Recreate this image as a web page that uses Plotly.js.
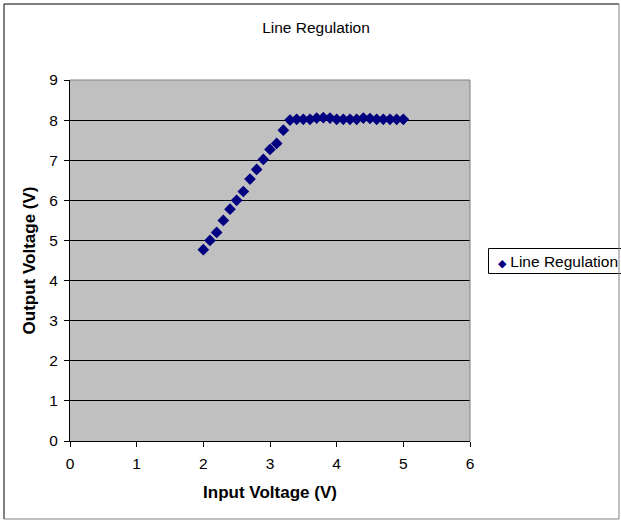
<!DOCTYPE html>
<html>
<head>
<meta charset="utf-8">
<script src="https://cdn.plot.ly/plotly-3.0.1.min.js"></script>
<style>
html,body{margin:0;padding:0;background:#fff;}
#chart{width:621px;height:521px;}
</style>
</head>
<body>
<div id="chart"></div>
<script>
const inputVoltage = [2.0, 2.1, 2.2, 2.3, 2.4, 2.5, 2.6, 2.7, 2.8, 2.9, 3.0, 3.1, 3.2, 3.3,
  3.4, 3.5, 3.6, 3.7, 3.8, 3.9, 4.0, 4.1, 4.2, 4.3, 4.4, 4.5, 4.6, 4.7, 4.8, 4.9, 5.0];
const outputVoltage = [4.77, 5.0, 5.2, 5.5, 5.78, 6.0, 6.22, 6.53, 6.77, 7.02, 7.27, 7.42, 7.75, 8.0,
  8.02, 8.02, 8.02, 8.05, 8.06, 8.05, 8.02, 8.02, 8.02, 8.02, 8.05, 8.04, 8.02, 8.02, 8.02, 8.02, 8.02];
const seriesName = "Line Regulation";
const chartTitle = "Line Regulation";
const xTitle = "Input Voltage (V)";
const yTitle = "Output Voltage (V)";
const markerColor = "#000080";

const L = 70, R = 151, T = 80, B = 80;
const W = 621, H = 521;
const pw = W - L - R, ph = H - T - B;
const px = v => (v - L) / pw;
const py = v => (H - B - v) / ph;
const FONT = "Arial, 'Liberation Sans', sans-serif";

const trace = {
  x: inputVoltage, y: outputVoltage, name: seriesName,
  type: "scatter", mode: "markers",
  marker: {symbol: "diamond", color: markerColor, size: 9},
  showlegend: false
};

const layout = {
  width: W, height: H,
  margin: {l: L, r: R, t: T, b: B, pad: 0, autoexpand: false},
  paper_bgcolor: "#ffffff",
  plot_bgcolor: "#c0c0c0",
  font: {family: FONT, size: 15.5, color: "#000"},
  showlegend: false,
  title: {text: chartTitle, font: {size: 15.5}, x: px(316), xref: "paper", xanchor: "center", y: 1 - 28/H, yanchor: "middle"},
  xaxis: {
    range: [0, 6], dtick: 1, tick0: 0,
    showgrid: false, zeroline: false,
    showline: true, linecolor: "#000", linewidth: 1, mirror: false,
    ticks: "outside", ticklen: 5, tickcolor: "#000",
    tickfont: {size: 15.5}, ticklabelstandoff: 3,
    title: {text: xTitle, font: {size: 17, weight: "bold"}, standoff: 15}
  },
  yaxis: {
    range: [0, 9], dtick: 1, tick0: 0,
    showgrid: true, gridcolor: "#000", gridwidth: 1,
    zeroline: false,
    showline: true, linecolor: "#000", linewidth: 1, mirror: false,
    ticks: "outside", ticklen: 5, tickcolor: "#000",
    tickfont: {size: 15.5}, ticklabelstandoff: 3,
    title: {text: yTitle, font: {size: 17, weight: "bold"}, standoff: 9}
  },
  annotations: [
    {xref: "paper", yref: "paper", x: px(496), y: py(261), xanchor: "left", yanchor: "middle",
     showarrow: false, align: "left",
     text: '<span style="color:' + markerColor + ';font-size:11px">\u25C6</span> ' + seriesName,
     font: {size: 15.5, color: "#000"}}
  ],
  shapes: [
    {type: "line", xref: "paper", yref: "paper", x0: 0, x1: 1, y0: 1, y1: 1, line: {color: "#808080", width: 1}, layer: "above"},
    {type: "line", xref: "paper", yref: "paper", x0: 1, x1: 1, y0: 0, y1: 1, line: {color: "#808080", width: 1}, layer: "above"},
    {type: "rect", xref: "paper", yref: "paper", x0: px(488.5), x1: px(625), y0: py(248.5), y1: py(273.5), line: {color: "#000", width: 1}, fillcolor: "#fff", layer: "below"},
    {type: "line", xref: "paper", yref: "paper", x0: px(4), x1: px(4), y0: py(4), y1: py(519), line: {color: "#000", width: 1}},
    {type: "line", xref: "paper", yref: "paper", x0: px(4), x1: px(619), y0: py(4), y1: py(4), line: {color: "#000", width: 1}},
    {type: "line", xref: "paper", yref: "paper", x0: px(619), x1: px(619), y0: py(4), y1: py(519), line: {color: "#808080", width: 1}},
    {type: "line", xref: "paper", yref: "paper", x0: px(4), x1: px(619), y0: py(519), y1: py(519), line: {color: "#808080", width: 1}}
  ]
};

Plotly.newPlot("chart", [trace], layout, {displayModeBar: false, staticPlot: true});
</script>
</body>
</html>
